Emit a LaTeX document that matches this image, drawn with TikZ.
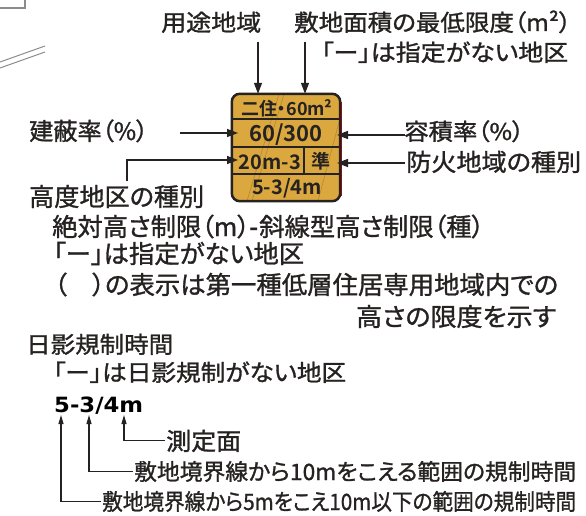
\documentclass[tikz,border=0pt]{standalone}
\usepackage{fontspec}
\usepackage{graphicx}
\usetikzlibrary{arrows.meta}
\newfontfamily\jp{Noto Sans CJK JP}[RawFeature=+palt, FakeBold=1.2]
\newfontfamily\jpb{Noto Sans CJK JP Bold}[RawFeature=+palt]
\newfontfamily\dvb{DejaVu Sans Bold}
\newcommand\jt[3]{{\jp\fontsize{#1}{#1}\selectfont\resizebox{#2pt}{\height}{#3}}}
\definecolor{ink}{RGB}{38,34,34}
\definecolor{gold}{RGB}{218,168,62}
\definecolor{golddk}{RGB}{180,135,50}
\definecolor{mapgray}{RGB}{140,140,140}
\begin{document}
\begin{tikzpicture}[x=1pt,y=-1pt,
  lbl/.style={anchor=base west, inner sep=0pt, text=ink},
  boxt/.style={inner sep=0pt, text=ink, font=\jpb\fontsize{20}{24}\selectfont},
  arr/.style={draw=ink, line width=1.4pt, -{Triangle[length=11pt,width=8pt]}},
  sarr/.style={draw=ink, line width=1.1pt, -{Triangle[length=9pt,width=5pt]}},
  divider/.style={draw=ink, line width=2.8pt},
]
\useasboundingbox (0,0) rectangle (586,516);

% map fragments top left
\draw[mapgray, line width=2.5pt] (0,8) -- (25,8) -- (25,0);
\draw[mapgray, line width=1pt] (0,62) -- (45,46);
\draw[mapgray, line width=1pt] (0,68) -- (45,52);

% the key box
\node[fill=gold, rounded corners=8pt, minimum width=108pt, minimum height=107pt, inner sep=0pt] (box) at (286,147.5) {};
\begin{scope}
  \clip[rounded corners=8pt] (232,94) rectangle (340,201);
  \draw[golddk, line width=0.6pt] (279,94) -- (247,201);
  \draw[golddk, line width=0.6pt] (284,94) -- (252,201);
  \draw[golddk, line width=0.6pt] (345,100) -- (318,201);
\end{scope}
\draw[red!80!black, line width=1pt] (341.5,102) -- (341.5,196);
\draw[divider] (232,119) -- (340,119);
\draw[divider] (232,147) -- (340,147);
\draw[divider] (232,174) -- (340,174);
\draw[divider] (304,147) -- (304,174);
\draw[draw=ink, line width=2.5pt, rounded corners=8pt] (box.north west) rectangle (box.south east);

\node[boxt, font=\jpb\fontsize{18}{20}\selectfont] (r1) at (287,108) {二住・60m²};
\node[boxt, font=\jpb\fontsize{22}{24}\selectfont] (r2) at (286,135) {60/300};
\node[boxt] (r3a) at (270,162) {20m-3};
\node[boxt, font=\jpb\fontsize{19}{22}\selectfont] (r3b) at (321,161) {準};
\node[boxt] (r4) at (287,188) {5-3/4m};

% labels
\node[lbl] (youto) at (161,31) {\jt{23}{100}{用途地域}};
\node[lbl] (menseki) at (294,31) {\jt{23}{277}{敷地面積の最低限度（m²）}};
\node[lbl] (menseki2) at (321,61) {\jt{23}{247}{「ー」は指定がない地区}};
\node[lbl] (kenpei) at (29,140) {\jt{24}{119}{建蔽率（\%）}};
\node[lbl] (yoseki) at (404,140) {\jt{23}{120}{容積率（\%）}};
\node[lbl] (bouka) at (406,171) {\jt{24}{175}{防火地域の種別}};
\node[lbl] (koudo) at (29,206) {\jt{25}{175}{高度地区の種別}};
\node[lbl] (koudo1) at (52,236) {\jt{25}{432}{絶対高さ制限（m）{\jpb -}斜線型高さ制限（種）}};
\node[lbl] (koudo2) at (53,263) {\jt{25}{251}{「ー」は指定がない地区}};
\node[lbl] (koudo3) at (54,294) {\jt{25}{504}{（　）の表示は第一種低層住居専用地域内での}};
\node[lbl] (koudo4) at (356,326) {\jt{25}{200}{高さの限度を示す}};
\node[lbl] (hikage) at (26,353) {\jt{23}{147}{日影規制時間}};
\node[lbl] (hikage2) at (53,381) {\jt{23}{293}{「ー」は日影規制がない地区}};
\node[anchor=base west, inner sep=0pt, font=\dvb\fontsize{21}{24}\selectfont] (ex) at (54,412) {\resizebox{89pt}{\height}{5-3/4m}};
\node[lbl] (sokutei) at (166,450) {\jt{24}{75}{測定面}};
\node[lbl] (ten) at (134,480) {\jt{22.5}{442}{敷地境界線から10mをこえる範囲の規制時間}};
\node[lbl] (five) at (102,510) {\jt{22.5}{474}{敷地境界線から5mをこえ10m以下の範囲の規制時間}};

% arrows to the box
\coordinate (a1) at (258,42);
\coordinate (a2) at (305,42);
\coordinate (b1) at (180,133);
\coordinate (b2) at (238,133);
\coordinate (c1) at (127,181);
\coordinate (c2) at (238,160);
\coordinate (d1) at (405,135);
\coordinate (d2) at (337,135);
\coordinate (e1) at (405,163);
\coordinate (e2) at (337,163);
\draw[arr] (a1) -- (a1 |- box.north);
\draw[arr] (a2) -- (a2 |- box.north);
\draw[arr] (b1) -- (b2);
\draw[arr] (c1) |- (c2);
\draw[arr] (d1) -- (d2);
\draw[arr] (e1) -- (e2);

% arrows under the example
\coordinate (t1) at (61,415);
\coordinate (t2) at (89,415);
\coordinate (t3) at (124,415);
\draw[sarr] ([xshift=-1pt]sokutei.west) -| (t3);
\draw[sarr] ([xshift=-1pt]ten.west) -| (t2);
\draw[sarr] ([xshift=-1pt]five.west) -| (t1);
\end{tikzpicture}
\end{document}
